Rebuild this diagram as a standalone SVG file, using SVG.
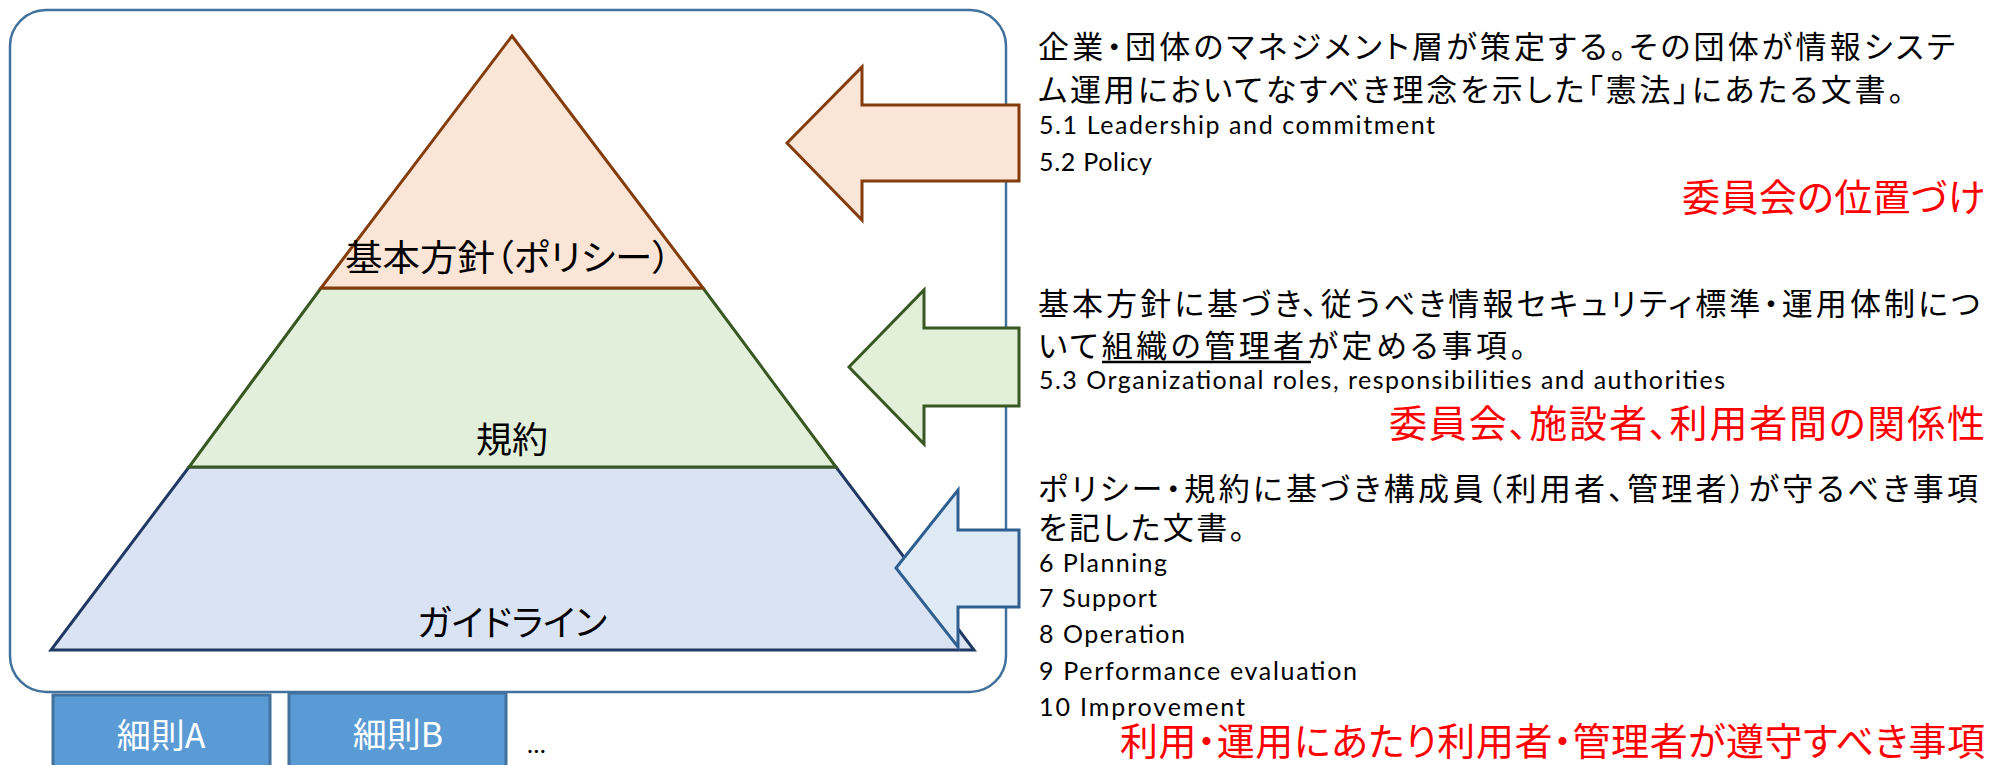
<svg xmlns="http://www.w3.org/2000/svg" width="1990" height="765" viewBox="0 0 1990 765">
<style>
.jp{font-family:"Noto Sans CJK JP","Noto Sans CJK SC",sans-serif;fill:#000;font-feature-settings:"palt" 1}
.en{font-family:Lato,"Liberation Sans",sans-serif;fill:#000;font-size:25px}
.body{font-size:31px}
.red{fill:#FF0000;font-size:38px}
.pyr{font-size:36px;text-anchor:middle}
.box{fill:#5B9BD5;stroke:#41719C;stroke-width:3}
.boxt{font-size:34px;fill:#fff;text-anchor:middle}
</style>
<rect x="0" y="0" width="1990" height="765" fill="#fff"/>
<g id="frame"><rect x="10" y="10" width="996" height="682" rx="36" ry="36" fill="#fff" stroke="#41719C" stroke-width="2.5"/></g>
<g id="guideline">
<polygon points="189,467 836,467 974,650 51,650" fill="#DAE3F3" stroke="#1F3864" stroke-width="3"/>
<text class="jp pyr" x="512" y="636" textLength="190" lengthAdjust="spacingAndGlyphs">ガイドライン</text>
</g>
<g id="kiyaku">
<polygon points="321,288 703,288 836,467 189,467" fill="#E2EFDA" stroke="#385723" stroke-width="3"/>
<text class="jp pyr" x="512" y="453">規約</text>
</g>
<g id="policy">
<polygon points="512,36 703,288 321,288" fill="#FBE5D6" stroke="#843C0C" stroke-width="3"/>
<text class="jp pyr" x="508" y="271" textLength="326" lengthAdjust="spacingAndGlyphs">基本方針（ポリシー）</text>
</g>
<g id="connectors">
<polygon points="787,143 862,67 862,105 1019,105 1019,181 862,181 862,220" fill="#FBE5D6" stroke="#843C0C" stroke-width="3"/>
<polygon points="849,367 924,290 924,328 1019,328 1019,406 924,406 924,444" fill="#E2F0D9" stroke="#385723" stroke-width="3"/>
<polygon points="896,568 958,490 958,530 1019,530 1019,607 958,607 958,647" fill="#DEEBF7" stroke="#2F5F8F" stroke-width="3"/>
</g>
<g id="desc-policy">
<text class="jp body" x="1038" y="58" textLength="917" lengthAdjust="spacing">企業・団体のマネジメント層が策定する。その団体が情報システ</text>
<text class="jp body" x="1038" y="101" textLength="866" lengthAdjust="spacing">ム運用においてなすべき理念を示した「憲法」にあたる文書。</text>
<text class="en" x="1039" y="134" textLength="396" lengthAdjust="spacing">5.1 Leadership and commitment</text>
<text class="en" x="1039" y="171" textLength="113" lengthAdjust="spacing">5.2 Policy</text>
<text class="jp red" x="1682" y="211" textLength="303" lengthAdjust="spacing">委員会の位置づけ</text>
</g>
<g id="desc-kiyaku">
<text class="jp body" x="1038" y="315" textLength="942" lengthAdjust="spacing">基本方針に基づき、従うべき情報セキュリティ標準・運用体制につ</text>
<text class="jp body" x="1038" y="357" textLength="488" lengthAdjust="spacing">いて組織の管理者が定める事項。</text>
<line x1="1102" y1="362" x2="1311" y2="362" stroke="#000" stroke-width="2.5"/>
<text class="en" x="1039" y="389" textLength="686" lengthAdjust="spacing">5.3 Organizational roles, responsibilities and authorities</text>
<text class="jp red" x="1389" y="437" font-size="38" textLength="596" lengthAdjust="spacing">委員会、施設者、利用者間の関係性</text>
</g>
<g id="desc-guideline">
<text class="jp body" x="1038" y="500" textLength="940" lengthAdjust="spacing">ポリシー・規約に基づき構成員（利用者、管理者）が守るべき事項</text>
<text class="jp body" x="1038" y="539" textLength="207" lengthAdjust="spacing">を記した文書。</text>
<text class="en" x="1039" y="572" textLength="128" lengthAdjust="spacing">6 Planning</text>
<text class="en" x="1039" y="607" textLength="118" lengthAdjust="spacing">7 Support</text>
<text class="en" x="1039" y="643" textLength="146" lengthAdjust="spacing">8 Operation</text>
<text class="en" x="1039" y="680" textLength="318" lengthAdjust="spacing">9 Performance evaluation</text>
<text class="en" x="1039" y="716" textLength="206" lengthAdjust="spacing">10 Improvement</text>
<text class="jp red" x="1120" y="755" font-size="35" textLength="865" lengthAdjust="spacing">利用・運用にあたり利用者・管理者が遵守すべき事項</text>
</g>
<g id="saisoku-a">
<rect class="box" x="53" y="695" width="217" height="85"/>
<text class="jp boxt" x="161" y="748">細則A</text>
</g>
<g id="saisoku-b">
<rect class="box" x="289" y="693" width="217" height="87"/>
<text class="jp boxt" x="398" y="747">細則B</text>
</g>
<g id="more"><text class="en" x="527" y="753">…</text></g>
</svg>
